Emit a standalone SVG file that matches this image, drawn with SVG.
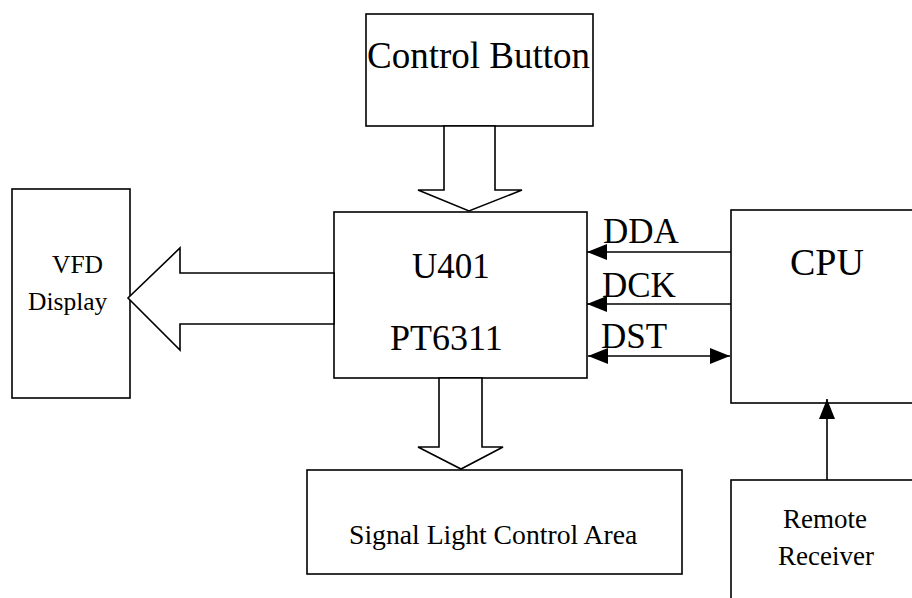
<svg xmlns="http://www.w3.org/2000/svg" width="912" height="598" viewBox="0 0 912 598">
<style>
.box{fill:#fff;stroke:#000;stroke-width:1.6}
.blk{fill:#fff;stroke:#000;stroke-width:1.6;stroke-linejoin:miter}
.ln{stroke:#000;stroke-width:1.6;fill:none}
text{font-family:"Liberation Serif","Times New Roman",serif;fill:#000}
</style>
<defs>
<marker id="ah" viewBox="0 0 20 16" refX="20" refY="8" markerWidth="20" markerHeight="16" markerUnits="userSpaceOnUse" orient="auto-start-reverse">
<path d="M0,0 L20,8 L0,16 z" fill="#000"/>
</marker>
</defs>
<rect width="912" height="598" fill="#fff"/>
<g id="control-button">
<rect class="box" x="366" y="14" width="227" height="112"/>
<text x="367" y="68" font-size="37">Control Button</text>
</g>
<g id="vfd-display">
<rect class="box" x="12" y="189" width="118" height="209"/>
<text x="52" y="273" font-size="25.5">VFD</text>
<text x="28" y="310" font-size="25.5">Display</text>
</g>
<g id="u401">
<rect class="box" x="334" y="212" width="253" height="166"/>
<text x="412" y="278" font-size="35">U401</text>
<text x="390" y="350" font-size="36">PT6311</text>
</g>
<g id="cpu">
<rect class="box" x="731" y="210" width="200" height="193"/>
<text x="790" y="275" font-size="38">CPU</text>
</g>
<g id="signal-light">
<rect class="box" x="307" y="470" width="375" height="104"/>
<text x="349" y="544" font-size="27.7">Signal Light Control Area</text>
</g>
<g id="remote-receiver">
<rect class="box" x="731" y="480" width="200" height="140"/>
<text x="783" y="528" font-size="27">Remote</text>
<text x="778" y="565" font-size="27">Receiver</text>
</g>
<g id="connectors">
<polygon class="blk" points="444,126 495,126 495,190 522,190 469,211 418,190 444,190"/>
<polygon class="blk" points="439,378 482,378 482,447 503,447 461,469 418,447 439,447"/>
<polygon class="blk" points="334,273 180,273 180,248 128,298 180,350 180,324 334,324"/>
<line class="ln" x1="731" y1="252" x2="587" y2="252" marker-end="url(#ah)"/>
<line class="ln" x1="731" y1="304" x2="587" y2="304" marker-end="url(#ah)"/>
<line class="ln" x1="588" y1="356" x2="730" y2="356" marker-start="url(#ah)" marker-end="url(#ah)"/>
<line class="ln" x1="827" y1="480" x2="827" y2="399" marker-end="url(#ah)"/>
<text x="603" y="243" font-size="35">DDA</text>
<text x="602" y="297" font-size="35">DCK</text>
<text x="601" y="348" font-size="35">DST</text>
</g>
</svg>
